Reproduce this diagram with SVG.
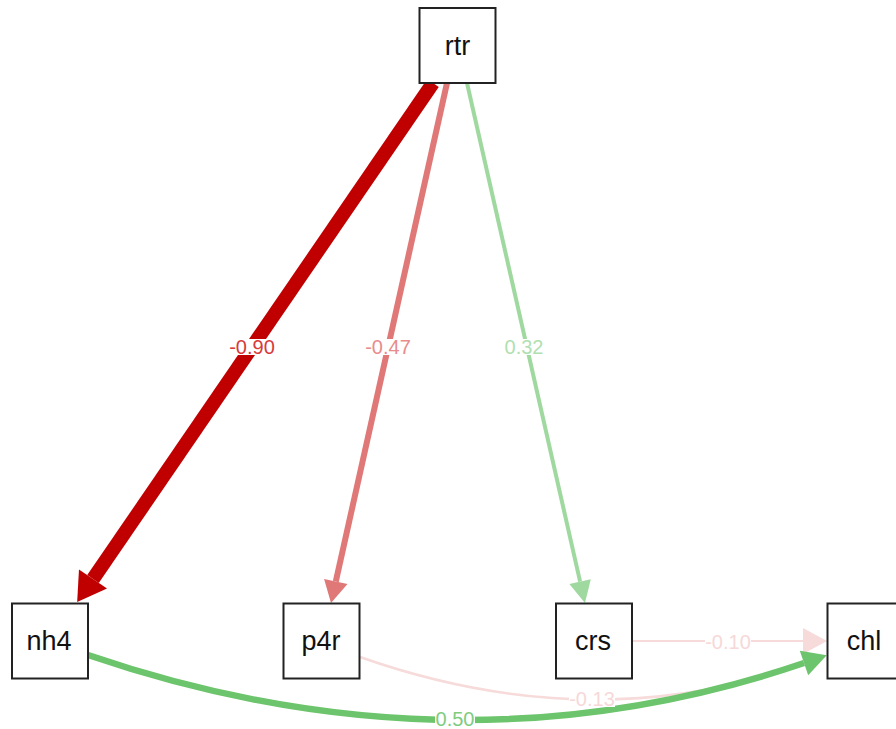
<svg xmlns="http://www.w3.org/2000/svg" width="896" height="729" viewBox="0 0 896 729">
<style>
.node rect{fill:#fff;stroke:#222;stroke-width:2}
.node text{font-family:"Liberation Sans",Arial,sans-serif;font-size:27px;fill:#111;text-anchor:middle}
.edge{fill:none}
.lbl rect{fill:#fff}
.lbl text{font-family:"Liberation Sans",Arial,sans-serif;font-size:20px;text-anchor:middle}
</style>
<defs>
<marker id="aRed" markerUnits="userSpaceOnUse" markerWidth="28" markerHeight="34" refX="0" refY="17" orient="auto" overflow="visible"><path d="M0,0 L28,17 L0,34 z" fill="#C00000"/></marker>
<marker id="aPink" markerUnits="userSpaceOnUse" markerWidth="22" markerHeight="24" refX="0" refY="12" orient="auto" overflow="visible"><path d="M0,0 L22,12 L0,24 z" fill="#E07878"/></marker>
<marker id="aLGreen" markerUnits="userSpaceOnUse" markerWidth="22" markerHeight="22" refX="0" refY="11" orient="auto" overflow="visible"><path d="M0,0 L22,11 L0,22 z" fill="#A0D9A0"/></marker>
<marker id="aGreen" markerUnits="userSpaceOnUse" markerWidth="24" markerHeight="26" refX="0" refY="13" orient="auto" overflow="visible"><path d="M0,0 L24,13 L0,26 z" fill="#6CC46C"/></marker>
<marker id="aLPink" markerUnits="userSpaceOnUse" markerWidth="24" markerHeight="26" refX="0" refY="13" orient="auto" overflow="visible"><path d="M0,0 L24,13 L0,26 z" fill="#F7DADA"/></marker>
<marker id="aLPinkS" markerUnits="userSpaceOnUse" markerWidth="20" markerHeight="18" refX="0" refY="9" orient="auto" overflow="visible"><path d="M0,0 L20,9 L0,18 z" fill="#F7DADA"/></marker>
</defs>
<g id="connectors">
<path class="edge" d="M360,657 Q593,739 806,663" stroke="#F7DADA" stroke-width="2.5" marker-end="url(#aLPinkS)"/>
<path class="edge" d="M632,641 L803,641" stroke="#F7DADA" stroke-width="2" marker-end="url(#aLPink)"/>
<path class="edge" d="M88,655 Q457,781 804,663" stroke="#6CC46C" stroke-width="6.5" marker-end="url(#aGreen)"/>
<path class="edge" d="M433,83 L93,579" stroke="#C00000" stroke-width="14" marker-end="url(#aRed)"/>
<path class="edge" d="M447,83 L335.8,581.5" stroke="#E07878" stroke-width="6" marker-end="url(#aPink)"/>
<path class="edge" d="M467,83 L580.1,581.6" stroke="#A0D9A0" stroke-width="4" marker-end="url(#aLGreen)"/>
<g class="lbl"><rect x="229" y="339" width="46" height="16"/><text x="252" y="354" fill="#D83A3A">-0.90</text></g>
<g class="lbl"><rect x="365" y="339" width="46" height="16"/><text x="388" y="354" fill="#E88C8C">-0.47</text></g>
<g class="lbl"><rect x="504" y="339" width="40" height="16"/><text x="524" y="354" fill="#B0E0B0">0.32</text></g>
<g class="lbl"><rect x="435" y="711" width="40" height="16"/><text x="455" y="726" fill="#7FCC7F">0.50</text></g>
<g class="lbl"><rect x="569" y="691" width="46" height="16"/><text x="592" y="706" fill="#F7D8D8">-0.13</text></g>
<g class="lbl"><rect x="705" y="634" width="46" height="16"/><text x="728" y="649" fill="#F7D8D8">-0.10</text></g>
</g>
<g id="rtr" class="node"><rect x="419.5" y="8" width="76" height="75"/><text x="457.5" y="55">rtr</text></g>
<g id="nh4" class="node"><rect x="12" y="603.5" width="76" height="75"/><text x="49" y="650">nh4</text></g>
<g id="p4r" class="node"><rect x="283.5" y="603.5" width="76" height="75"/><text x="321" y="650">p4r</text></g>
<g id="crs" class="node"><rect x="556" y="603.5" width="76" height="75"/><text x="593" y="650">crs</text></g>
<g id="chl" class="node"><rect x="827.5" y="603.5" width="76" height="75"/><text x="864" y="650">chl</text></g>
</svg>
